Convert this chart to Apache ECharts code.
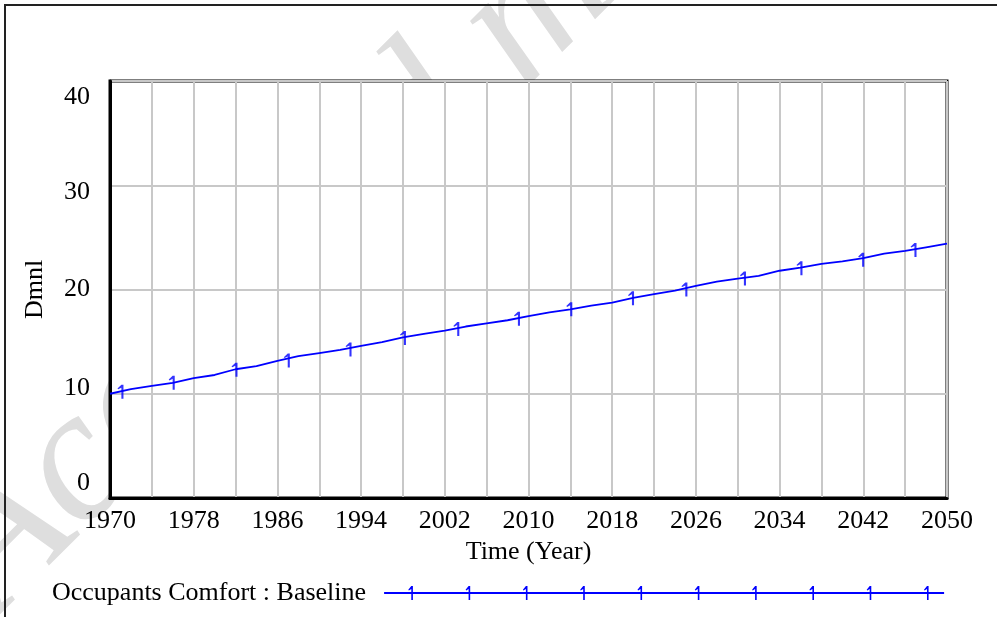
<!DOCTYPE html>
<html>
<head>
<meta charset="utf-8">
<script src="https://cdn.jsdelivr.net/npm/echarts@6/dist/echarts.min.js"></script>
<style>
html, body { margin: 0; padding: 0; background: #fff; }
#chart { width: 997px; height: 617px; }
</style>
</head>
<body>
<div id="chart"></div>
<script>
// Occupants Comfort : Baseline (Dmnl), every 2 years
var years = [1970, 1972, 1974, 1976, 1978, 1980, 1982, 1984, 1986, 1988,
             1990, 1992, 1994, 1996, 1998, 2000, 2002, 2004, 2006, 2008,
             2010, 2012, 2014, 2016, 2018, 2020, 2022, 2024, 2026, 2028,
             2030, 2032, 2034, 2036, 2038, 2040, 2042, 2044, 2046, 2048, 2050];
var comfort = [10.0, 10.45, 10.75, 11.05, 11.5, 11.8, 12.35, 12.65, 13.15, 13.6,
               13.9, 14.2, 14.6, 14.95, 15.4, 15.75, 16.05, 16.45, 16.75, 17.05,
               17.45, 17.8, 18.1, 18.45, 18.75, 19.2, 19.55, 19.9, 20.35, 20.75,
               21.05, 21.3, 21.8, 22.1, 22.45, 22.7, 23.0, 23.45, 23.7, 24.05, 24.4];

// the "1" run markers sitting on the curve
var markerYears = [1971, 1975.9, 1981.9, 1986.9, 1992.8, 1998, 2003.1, 2008.9,
                   2013.9, 2019.8, 2024.9, 2030.5, 2035.9, 2041.8, 2046.8];
var markerValues = [10.2, 11.05, 12.3, 13.2, 14.25, 15.35, 16.2, 17.2,
                    18.1, 19.15, 20.0, 21.05, 22.05, 22.85, 23.8];

var xTicks = [1970, 1978, 1986, 1994, 2002, 2010, 2018, 2026, 2034, 2042, 2050];
var yTicks = [0, 10, 20, 30, 40];

var seriesName = 'Occupants Comfort : Baseline';
var blue = '#0000ff';
var grey = '#c8c8c8';
var serif = '"Liberation Serif", "Times New Roman", serif';
var fs = 26;

var oneGlyph = 'path://M3.4,0 L5,0 L5,14 L3.4,14 L3.4,3 L1,4.6 L0.4,3.8 Z';

// legend sample: long line with the "1" marks on it
function legendIcon(w, h) {
    var p = 'M0,' + (h / 2 - 1) + ' L' + w + ',' + (h / 2 - 1) + ' L' + w + ',' + (h / 2 + 1) + ' L0,' + (h / 2 + 1) + ' Z';
    for (var cx = 28; cx < w - 5; cx += 57.3) {
        p += ' M' + (cx - 0.8) + ',0 L' + (cx + 0.8) + ',0 L' + (cx + 0.8) + ',' + h +
             ' L' + (cx - 0.8) + ',' + h + ' L' + (cx - 0.8) + ',3 L' + (cx - 3.2) + ',4.6 L' + (cx - 3.8) + ',3.8 Z';
    }
    return 'path://' + p;
}

// vensim spreads its y labels a bit wider than the grid lines
var yShift = { 0: -15, 10: -6, 20: 0, 30: 7, 40: 16 };
var yRich = {};
yTicks.forEach(function (t) {
    var d = yShift[t];
    yRich['s' + t] = {
        fontSize: fs, fontFamily: serif, color: '#000',
        padding: d >= 0 ? [2 * d, 0, 0, 0] : [0, 0, -2 * d, 0]
    };
});

var chart = echarts.init(document.getElementById('chart'));
var option = {
    animation: false,
    backgroundColor: '#fff',
    graphic: [
        {
            type: 'text',
            z: -10,
            x: 30, y: 648,
            rotation: 45 * Math.PI / 180,
            style: {
                text: 'Accepted manuscript',
                font: 'italic 190px ' + serif,
                fill: '#dedede',
                verticalAlign: 'bottom'
            }
        },
        {
            type: 'rect',
            z: 100,
            shape: { x: 5, y: 5, width: 1200, height: 800 },
            style: { fill: 'none', stroke: '#222', lineWidth: 2 }
        }
    ],
    grid: {
        left: 110, right: 50, top: 81, bottom: 119,
        show: true,
        backgroundColor: '#fff',
        borderColor: '#000',
        borderWidth: 3
    },
    legend: {
        data: [seriesName],
        left: 47,
        top: 575,
        align: 'right',
        selectedMode: false,
        icon: legendIcon(560, 14),
        itemWidth: 560,
        itemHeight: 14,
        formatter: function (n) { return n + '  '; },
        textStyle: { fontSize: fs, fontFamily: serif, color: '#000' }
    },
    xAxis: {
        type: 'value',
        min: xTicks[0],
        max: xTicks[xTicks.length - 1],
        interval: xTicks[1] - xTicks[0],
        name: 'Time (Year)',
        nameLocation: 'middle',
        nameGap: 41,
        nameTextStyle: { fontSize: fs, fontFamily: serif, color: '#000' },
        axisLine: { show: true, lineStyle: { color: '#000', width: 3 } },
        axisTick: { show: false },
        axisLabel: {
            margin: 10,
            fontSize: fs, fontFamily: serif, color: '#000',
            formatter: function (v) { return String(v); }
        },
        splitLine: { show: true, lineStyle: { color: grey, width: 2 } },
        minorTick: { show: false, splitNumber: 2 },
        minorSplitLine: { show: true, lineStyle: { color: grey, width: 2 } }
    },
    yAxis: {
        type: 'value',
        min: yTicks[0],
        max: yTicks[yTicks.length - 1],
        interval: yTicks[1] - yTicks[0],
        name: 'Dmnl',
        nameLocation: 'middle',
        nameGap: 62,
        nameRotate: 90,
        nameTextStyle: { fontSize: fs, fontFamily: serif, color: '#000' },
        axisLine: { show: true, lineStyle: { color: '#000', width: 3 } },
        axisTick: { show: false },
        axisLabel: {
            margin: 20,
            fontSize: fs, fontFamily: serif, color: '#000',
            formatter: function (v) { return '{s' + v + '|' + v + '}'; },
            rich: yRich
        },
        splitLine: { show: true, lineStyle: { color: grey, width: 2 } }
    },
    series: [
        {
            name: seriesName,
            type: 'line',
            data: years.map(function (y, i) { return [y, comfort[i]]; }),
            symbol: 'none',
            silent: true,
            itemStyle: { color: blue },
            lineStyle: { color: blue, width: 1.8 },
            z: 5
        },
        {
            name: 'marks',
            type: 'scatter',
            data: markerYears.map(function (y, i) { return [y, markerValues[i]]; }),
            symbol: oneGlyph,
            symbolSize: [6, 14],
            silent: true,
            itemStyle: { color: blue },
            z: 6
        }
    ]
};
chart.setOption(option);
window.addEventListener('resize', function () {
    chart.resize();
});
</script>
</body>
</html>
